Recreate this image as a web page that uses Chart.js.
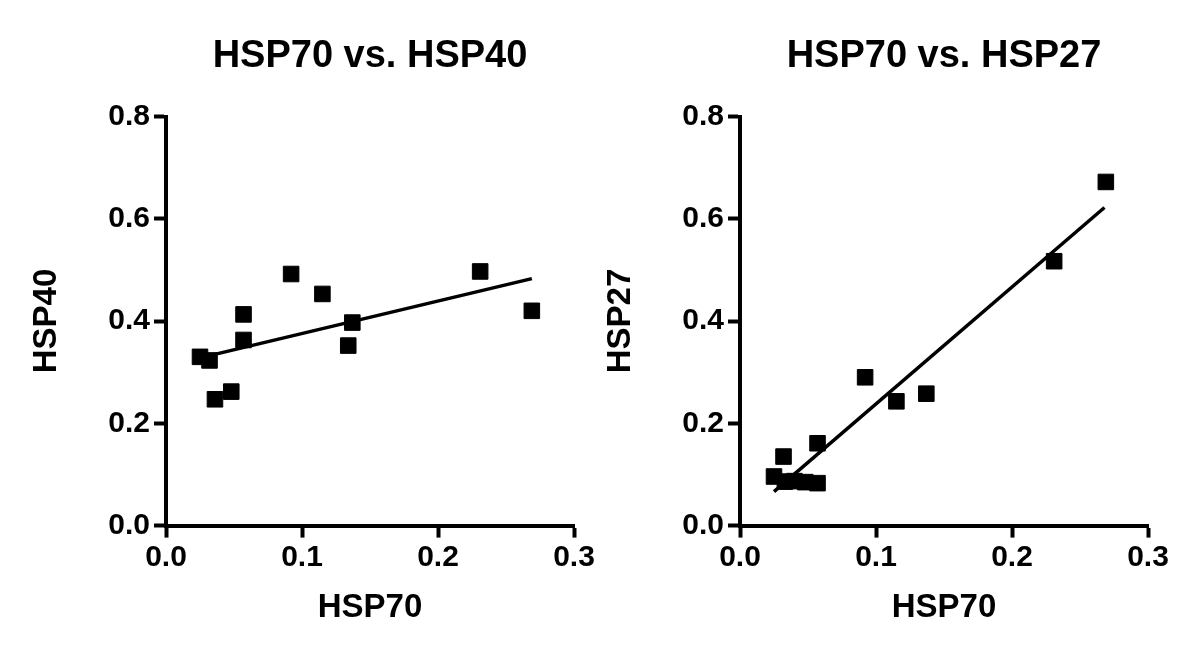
<!DOCTYPE html>
<html>
<head>
<meta charset="utf-8">
<script src="https://cdn.jsdelivr.net/npm/chart.js@4"></script>
<style>
  html, body { margin: 0; padding: 0; background: #fff; }
  body { width: 1200px; height: 651px; position: relative; overflow: hidden; }
  .box { position: absolute; top: 0; width: 600px; height: 651px; }
  #b1 { left: 0; }
  #b2 { left: 574px; }
</style>
</head>
<body>
<div class="box" id="b1"><canvas id="c1" width="600" height="651"></canvas></div>
<div class="box" id="b2"><canvas id="c2" width="600" height="651"></canvas></div>
<script>
// ---- Data ----
const leftTitle = "HSP70 vs. HSP40";
const rightTitle = "HSP70 vs. HSP27";
const xLabel = "HSP70";
const leftYLabel = "HSP40";
const rightYLabel = "HSP27";

const hsp70Left = [0.025, 0.032, 0.036, 0.048, 0.057, 0.057, 0.092, 0.115, 0.134, 0.137, 0.231, 0.269];
const hsp40     = [0.330, 0.323, 0.247, 0.262, 0.413, 0.363, 0.492, 0.453, 0.352, 0.397, 0.497, 0.420];

const hsp70Right = [0.025, 0.032, 0.033, 0.040, 0.048, 0.057, 0.057, 0.092, 0.115, 0.137, 0.231, 0.269];
const hsp27      = [0.096, 0.135, 0.086, 0.087, 0.085, 0.083, 0.161, 0.290, 0.243, 0.258, 0.517, 0.672];

const fitLeftX  = [0.025, 0.269];
const fitLeftY  = [0.328, 0.483];
const fitRightX = [0.025, 0.268];
const fitRightY = [0.0665, 0.622];

const xTicks = [0.0, 0.1, 0.2, 0.3];
const yTicks = [0.0, 0.2, 0.4, 0.6, 0.8];

// ---- Chart construction ----
const FAMILY = '"Liberation Sans", Arial, Helvetica, sans-serif';
const toPts = (xs, ys) => xs.map((x, i) => ({x: x, y: ys[i]}));

function makeChart(canvasId, title, yLabel, xs, ys, fx, fy) {
  return new Chart(document.getElementById(canvasId), {
    type: 'scatter',
    data: {
      datasets: [
        {
          data: toPts(xs, ys),
          pointStyle: 'rect',
          pointRadius: 11,
          pointHoverRadius: 11,
          backgroundColor: '#000',
          borderColor: '#000',
          borderWidth: 1,
          showLine: false
        },
        {
          data: toPts(fx, fy),
          showLine: true,
          pointRadius: 0,
          borderColor: '#000',
          borderWidth: 3.5,
          fill: false
        }
      ]
    },
    options: {
      responsive: false,
      devicePixelRatio: 1,
      animation: false,
      events: [],
      layout: { padding: { left: 0, right: 26, top: 0, bottom: 0 } },
      plugins: {
        legend: { display: false },
        tooltip: { enabled: false },
        title: {
          display: true,
          text: title,
          fullSize: false,
          color: '#000',
          font: { family: FAMILY, size: 38, weight: 'bold', lineHeight: 1.2 },
          padding: { top: 34.2, bottom: 36.7 }
        }
      },
      scales: {
        x: {
          type: 'linear',
          min: 0, max: 0.3,
          afterFit: s => { s.height = 125.4; },
          afterBuildTicks: s => { s.ticks = xTicks.map(v => ({value: v})); },
          ticks: {
            color: '#000',
            padding: 2,
            maxRotation: 0,
            font: { family: FAMILY, size: 30, weight: 'bold' },
            callback: v => Number(v).toFixed(1)
          },
          grid: { drawOnChartArea: false, drawTicks: true, tickLength: 12, tickWidth: 4, tickColor: '#000' },
          border: { display: true, color: '#000', width: 4 },
          title: {
            display: true, text: xLabel, color: '#000',
            font: { family: FAMILY, size: 33, weight: 'bold', lineHeight: 1.2 },
            padding: { top: 0, bottom: 23.7 }
          }
        },
        y: {
          type: 'linear',
          min: 0, max: 0.8,
          afterFit: s => { s.width = 166; },
          afterBuildTicks: s => { s.ticks = yTicks.map(v => ({value: v})); },
          ticks: {
            color: '#000',
            padding: 4,
            font: { family: FAMILY, size: 30, weight: 'bold' },
            callback: v => Number(v).toFixed(1)
          },
          grid: { drawOnChartArea: false, drawTicks: true, tickLength: 12, tickWidth: 4, tickColor: '#000' },
          border: { display: true, color: '#000', width: 4 },
          title: {
            display: true, text: yLabel, color: '#000',
            font: { family: FAMILY, size: 33, weight: 'bold', lineHeight: 1.2 },
            padding: { top: 26.7, bottom: 0 }
          }
        }
      }
    }
  });
}

makeChart('c1', leftTitle, leftYLabel, hsp70Left, hsp40, fitLeftX, fitLeftY);
makeChart('c2', rightTitle, rightYLabel, hsp70Right, hsp27, fitRightX, fitRightY);
</script>
</body>
</html>
